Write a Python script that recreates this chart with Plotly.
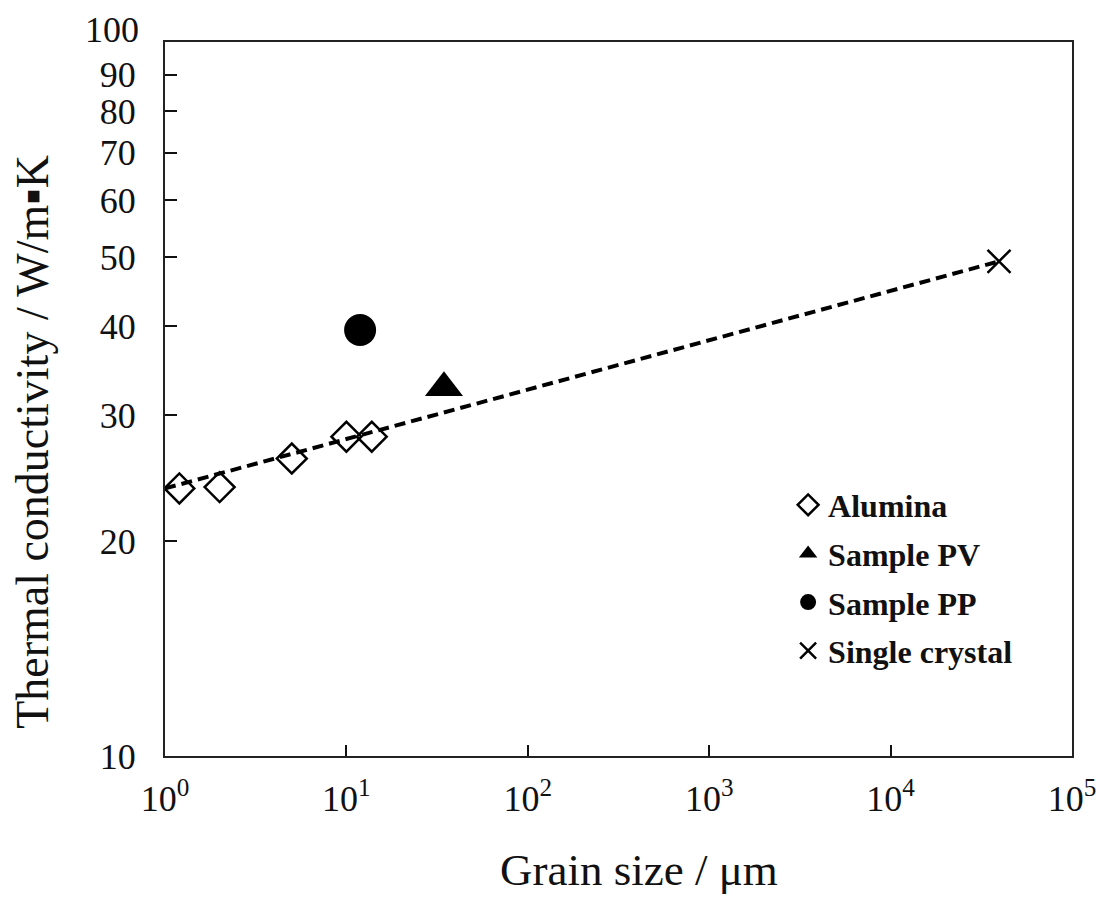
import plotly.graph_objects as go

# ---- data ----
alumina_x = [1.2, 2.0, 5.0, 10.0, 13.8]
alumina_y = [23.7, 23.8, 26.1, 28.0, 28.0]

pv_x = [34.5]
pv_y = [32.8]

pp_x = [11.9]
pp_y = [39.5]

single_x = [39600]
single_y = [49.3]

trend_x = [1.0, 39600]
trend_y = [23.7, 49.3]

x_tickvals = [1, 10, 100, 1000, 10000, 100000]
x_ticktext = ["10<sup>0</sup>", "10<sup>1</sup>", "10<sup>2</sup>",
              "10<sup>3</sup>", "10<sup>4</sup>", "10<sup>5</sup>"]
y_tickvals = [10, 20, 30, 40, 50, 60, 70, 80, 90, 100]
y_ticktext = ["10", "20", "30", "40", "50", "60", "70", "80", "90", "100"]

FONT = "Liberation Serif, Times New Roman, serif"

fig = go.Figure()

fig.add_trace(go.Scatter(
    x=trend_x, y=trend_y, mode="lines", showlegend=False,
    line=dict(color="black", width=4, dash="11px,6px"), hoverinfo="skip"))

fig.add_trace(go.Scatter(
    x=alumina_x, y=alumina_y, mode="markers", name="Alumina", legendgroup="a",
    marker=dict(symbol="diamond-open", size=23, color="black",
                line=dict(width=2.5, color="black"))))

fig.add_trace(go.Scatter(
    x=pv_x, y=pv_y, mode="markers", name="Sample PV", legendgroup="b",
    marker=dict(symbol="triangle-up", size=33, color="black")))

fig.add_trace(go.Scatter(
    x=pp_x, y=pp_y, mode="markers", name="Sample PP", legendgroup="c",
    marker=dict(symbol="circle", size=32, color="black")))

fig.add_trace(go.Scatter(
    x=single_x, y=single_y, mode="markers", name="Single crystal", legendgroup="d",
    marker=dict(symbol="x-thin", size=23, color="black",
                line=dict(width=2.5, color="black"))))

# the top label ("100") sits a little above its tick in the reference
shown_y_vals = y_tickvals[:-1]
shown_y_text = y_ticktext[:-1]

fig.update_layout(
    width=1096, height=889,
    margin=dict(l=157, r=32, t=34, b=141),
    paper_bgcolor="white", plot_bgcolor="white",
    font=dict(family=FONT, color="#111"),
    xaxis=dict(
        type="log", range=[0, 5], automargin=False,
        tickvals=x_tickvals, ticktext=x_ticktext,
        ticks="inside", ticklen=11, tickwidth=2, tickcolor="#111",
        showline=True, linecolor="#222", linewidth=2, mirror=True,
        showgrid=False, zeroline=False,
        tickfont=dict(family=FONT, size=36, color="#111"),
        ticklabelstandoff=10,
    ),
    yaxis=dict(
        type="log", range=[1, 2], automargin=False,
        tickvals=shown_y_vals, ticktext=shown_y_text,
        ticks="inside", ticklen=12, tickwidth=2, tickcolor="#111",
        showline=True, linecolor="#222", linewidth=2, mirror=True,
        showgrid=False, zeroline=False,
        tickfont=dict(family=FONT, size=36, color="#111"),
        ticklabelstandoff=20,
    ),
    legend=dict(
        x=0.687, y=0.39, xanchor="left", yanchor="top",
        bgcolor="rgba(0,0,0,0)",
        font=dict(family=FONT, size=32, color="#111", weight="bold"),
        tracegroupgap=4,
    ),
    annotations=[
        dict(text=y_ticktext[-1], xref="paper", yref="y",
             x=-0.0265, y=2.0, yshift=12, showarrow=False,
             xanchor="right", yanchor="middle",
             font=dict(family=FONT, size=36, color="#111")),
        dict(text="Thermal conductivity / W/m\u25aaK", xref="paper", yref="paper",
             x=-0.1455, y=0.44, textangle=-90, showarrow=False,
             xanchor="center", yanchor="middle",
             font=dict(family=FONT, size=46, color="#111")),
        dict(text="Grain size / \u03bcm", xref="paper", yref="paper",
             x=0.5226, y=-0.159, showarrow=False,
             xanchor="center", yanchor="middle",
             font=dict(family=FONT, size=45, color="#111")),
    ],
)

fig.write_html("out.html")
